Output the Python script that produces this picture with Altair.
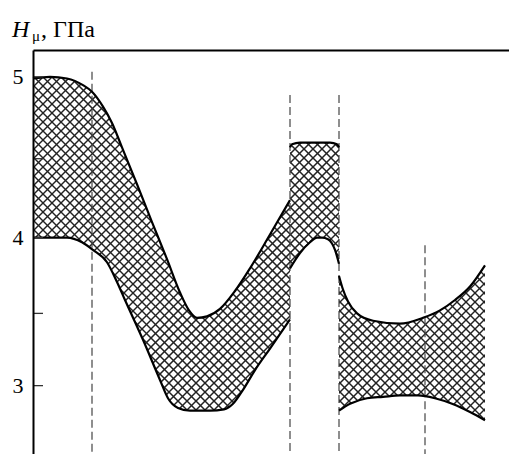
import altair as alt
import pandas as pd

# Microhardness band H_mu (GPa) along the profile position (arbitrary units)
# Zone 1
r1_x = [0, 17, 34, 50, 59, 70, 79, 89, 104, 119, 134, 147, 156, 164, 174, 187, 202, 217, 237, 257]
r1_top = [4.99, 5.00, 4.99, 4.95, 4.91, 4.82, 4.72, 4.57, 4.34, 4.10, 3.86, 3.64, 3.52, 3.47, 3.48,
          3.53, 3.65, 3.80, 4.02, 4.24]
r1_bx = [0, 34, 49, 60, 74, 84, 92, 110, 127, 135, 145, 157, 177, 191, 200, 210, 222, 237, 257]
r1_bot = [4.00, 4.00, 3.97, 3.92, 3.84, 3.71, 3.59, 3.32, 3.04, 2.91, 2.84, 2.82, 2.82, 2.83, 2.87,
          2.97, 3.11, 3.26, 3.46]
# Zone 2
r2_x = [257, 259, 267, 282, 297, 304, 306]
r2_top = [4.57, 4.59, 4.60, 4.60, 4.60, 4.59, 4.57]
r2_bx = [257, 267, 277, 284, 289, 295, 302, 306]
r2_bot = [3.80, 3.90, 3.97, 4.00, 4.00, 3.99, 3.92, 3.83]
# Zone 3
r3_x = [306, 310, 315, 324, 340, 367, 390, 407, 422, 437, 452]
r3_top = [3.75, 3.66, 3.58, 3.50, 3.45, 3.43, 3.47, 3.52, 3.59, 3.68, 3.82]
r3_bx = [306, 317, 334, 350, 367, 385, 402, 419, 437, 452]
r3_bot = [2.82, 2.87, 2.91, 2.92, 2.93, 2.93, 2.91, 2.87, 2.81, 2.75]

# Zone boundaries (dashed) and where each dashed line starts
dash_x = [59, 257, 306, 392]
dash_top = [5.03, 4.89, 4.89, 3.95]

tick_vals = [3, 3.5, 4, 4.5, 5]
label_vals = [3, 4, 5]

X_MIN, X_MAX = 0, 476
Y_MIN, Y_MAX = 2.5, 5.16
W, H = 476, 404
HATCH_STEP = 9

xs = alt.Scale(domain=[X_MIN, X_MAX], nice=False, zero=False)
ys = alt.Scale(type="pow", exponent=1.33, domain=[Y_MIN, Y_MAX], nice=False, zero=False)
x_axis = alt.Axis(orient="top", labels=False, ticks=False, grid=False, title=None,
                  domainColor="black", domainWidth=2, zindex=2)
y_axis = alt.Axis(values=label_vals, format="~g", tickSize=0, grid=False, title=None,
                  domainColor="black", domainWidth=2, labelFont="Liberation Serif",
                  labelFontSize=22, labelColor="black", labelPadding=10, zindex=2)

X = alt.X("x:Q", scale=xs, axis=x_axis)
Y = alt.Y("y:Q", scale=ys, axis=y_axis)

# Cross-hatching: two families of 45-degree lines over the whole plot, later masked
hx, hx2 = [], []
c = X_MIN - H
while c <= X_MAX + H:
    hx.append(c)
    hx2.append(c + H)
    hx.append(c)
    hx2.append(c - H)
    c += HATCH_STEP
hatch_df = pd.DataFrame({"x": hx, "x2": hx2, "y": Y_MAX, "y2": Y_MIN})
hatch = alt.Chart(hatch_df).mark_rule(clip=True, color="#222222", strokeWidth=1.5).encode(
    x=X, x2="x2:Q", y=Y, y2="y2:Q")


def curve_df(xv, yv):
    return pd.DataFrame({"x": xv, "y": yv})


masks = []
for xv, yv, edge in [(r1_x, r1_top, Y_MAX), (r1_bx, r1_bot, Y_MIN),
                     (r2_x, r2_top, Y_MAX), (r2_bx, r2_bot, Y_MIN),
                     (r3_x, r3_top, Y_MAX), (r3_bx, r3_bot, Y_MIN)]:
    masks.append(alt.Chart(curve_df(xv, yv)).mark_area(
        color="white", interpolate="monotone", clip=True).encode(x=X, y=Y, y2=alt.datum(edge)))

right_mask = alt.Chart(pd.DataFrame({"x": [r3_x[-1]], "x2": [X_MAX]})).mark_rect(
    color="white").encode(x=X, x2="x2:Q", y=alt.datum(Y_MAX), y2=alt.datum(Y_MIN))

dash_df = pd.DataFrame({"x": dash_x, "y": dash_top, "y2": Y_MIN})
dashes = alt.Chart(dash_df).mark_rule(color="#444444", strokeWidth=1.2, strokeDash=[8, 4]).encode(
    x=X, y=Y, y2="y2:Q")

lines = []
for xv, yv in [(r1_x, r1_top), (r1_bx, r1_bot), (r2_x, r2_top), (r2_bx, r2_bot),
               (r3_x, r3_top), (r3_bx, r3_bot)]:
    lines.append(alt.Chart(curve_df(xv, yv)).mark_line(
        color="black", strokeWidth=2.2, interpolate="monotone").encode(x=X, y=Y))

tick_df = pd.DataFrame({"x": 0, "x2": 10, "y": tick_vals})
ticks = alt.Chart(tick_df).mark_rule(color="#333333", strokeWidth=1.3).encode(x=X, x2="x2:Q", y=Y)

serif = "Liberation Serif"
t_h = alt.Chart(pd.DataFrame({"s": ["H"]})).mark_text(
    font=serif, fontSize=24, fontStyle="italic", align="left", baseline="alphabetic",
    color="black").encode(text="s:N", x=alt.value(-21), y=alt.value(-13))
t_mu = alt.Chart(pd.DataFrame({"s": ["μ"]})).mark_text(
    font=serif, fontSize=15, align="left", baseline="alphabetic",
    color="black").encode(text="s:N", x=alt.value(-1), y=alt.value(-9))
t_unit = alt.Chart(pd.DataFrame({"s": [", ГПа"]})).mark_text(
    font=serif, fontSize=24, align="left", baseline="alphabetic",
    color="black").encode(text="s:N", x=alt.value(8), y=alt.value(-13))

chart = alt.layer(
    hatch, *masks, right_mask, dashes, *lines, ticks, t_h, t_mu, t_unit
).properties(
    width=W, height=H,
    padding={"left": 33, "top": 50, "right": 0, "bottom": 0},
    autosize=alt.AutoSizeParams(type="none"),
).configure_view(strokeWidth=0)

chart.save("out.html", embed_options={"renderer": "svg", "actions": False})
